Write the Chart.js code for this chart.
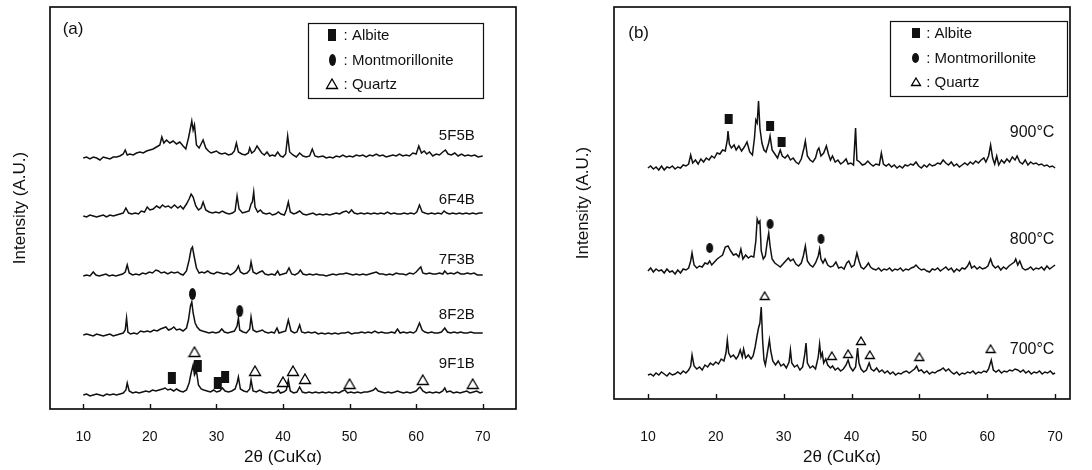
<!DOCTYPE html>
<html>
<head>
<meta charset="utf-8">
<script src="https://cdn.jsdelivr.net/npm/chart.js@4.4.0/dist/chart.umd.min.js"></script>
<style>
html, body { margin: 0; padding: 0; background: #fff; }
#wrap { position: relative; width: 1092px; height: 470px; }
canvas { position: absolute; top: 0; }
</style>
</head>
<body>
<div id="wrap">
  <canvas id="chartA" width="546" height="470" style="left:0px"></canvas>
  <canvas id="chartB" width="546" height="470" style="left:546px"></canvas>
</div>
<script>
// ---- data (2theta, intensity above each pattern's baseline) ----
const tickValues = [10, 20, 30, 40, 50, 60, 70]
const legendNames = ["Albite", "Montmorillonite", "Quartz"]

const samplesA = ["5F5B", "6F4B", "7F3B", "8F2B", "9F1B"]
const offsetsA = [251, 193, 133, 74, 14]

const trace5F5B = [10,0, 10.5,1, 11,-1, 11.5,1, 12,0, 12.5,-2, 13,1, 13.5,0, 14,-1, 14.5,1, 15,1, 15.5,2, 16,4, 16.3,8, 16.6,3, 17,4, 17.5,3, 18,5, 18.5,6, 19,5, 19.5,7, 20,8, 20.5,9, 21,11, 21.5,13, 21.8,21, 22.1,15, 22.5,18, 23,15, 23.5,17, 24,14, 24.5,16, 25,12, 25.4,9, 25.8,20, 26.1,30, 26.3,37, 26.5,28, 26.7,33, 27,13, 27.4,10, 27.7,14, 28,18, 28.4,10, 28.8,7, 29.2,5, 29.6,6, 30,7, 30.4,5, 30.8,4, 31.3,5, 31.8,3, 32.3,4, 32.7,7, 33,15, 33.3,6, 33.8,4, 34.3,3, 34.8,5, 35,10, 35.3,5, 35.7,7, 36.1,12, 36.4,9, 36.8,5, 37.2,3, 37.6,6, 38,2, 38.4,3, 38.8,2, 39.2,6, 39.6,2, 40,1, 40.4,4, 40.7,22, 41,6, 41.5,3, 42,1, 42.5,5, 43,2, 43.5,1, 44,2, 44.4,9, 44.8,2, 45.3,1, 46,2, 46.5,0, 47,1, 47.5,0, 48,2, 48.5,1, 49,3, 49.5,1, 50,2, 50.5,1, 51,3, 51.5,2, 52,3, 52.5,1, 53,3, 53.5,2, 54,4, 54.5,2, 55,3, 55.5,1, 56,2, 56.5,3, 57,2, 57.5,4, 58,2, 58.5,3, 59,2, 59.5,5, 60,4, 60.4,12, 60.8,5, 61.2,7, 61.6,4, 62,6, 62.5,2, 63,4, 63.5,3, 64,6, 64.4,8, 64.8,4, 65.3,3, 65.8,5, 66.3,2, 66.8,4, 67.3,2, 67.8,3, 68.3,2, 68.8,3, 69.3,1, 70,2]
const trace6F4B = [10,0, 10.5,-1, 11,1, 11.5,0, 12,-1, 12.5,0, 13,1, 13.5,-1, 14,1, 14.5,0, 15,1, 15.5,2, 16,3, 16.4,8, 16.8,3, 17.3,2, 17.8,3, 18.3,2, 18.7,5, 19.2,4, 19.6,9, 20,6, 20.5,7, 21,10, 21.5,8, 21.9,11, 22.3,9, 22.8,10, 23.2,8, 23.7,11, 24.2,8, 24.6,10, 25,7, 25.5,12, 25.9,17, 26.2,22, 26.5,19, 26.9,10, 27.3,6, 27.7,8, 28,14, 28.4,6, 28.9,4, 29.4,3, 29.9,4, 30.4,3, 30.9,5, 31.4,3, 31.9,2, 32.4,3, 32.8,5, 33.1,20, 33.4,7, 33.9,3, 34.4,4, 34.9,5, 35.2,12, 35.4,14, 35.6,24, 35.8,9, 36.2,4, 36.6,6, 37,3, 37.5,2, 38,3, 38.4,1, 38.9,2, 39.3,4, 39.7,2, 40.2,1, 40.5,6, 40.8,14, 41.1,4, 41.6,2, 42,3, 42.5,5, 43,2, 43.5,1, 44,2, 44.5,3, 45,1, 45.5,2, 46,1, 46.5,2, 47,1, 47.5,2, 48,3, 48.5,2, 49,4, 49.5,5, 49.9,3, 50.3,6, 50.7,3, 51.2,2, 51.7,3, 52.2,2, 52.7,3, 53.2,2, 53.7,3, 54.2,2, 54.7,3, 55.2,2, 55.7,4, 56.2,2, 56.7,3, 57.2,2, 57.7,2, 58.2,3, 58.7,2, 59.2,3, 59.7,2, 60.1,4, 60.5,11, 60.9,4, 61.3,3, 61.8,2, 62.3,3, 62.8,2, 63.3,3, 63.8,2, 64.2,5, 64.6,3, 65,2, 65.5,3, 66,2, 66.5,3, 67,2, 67.5,3, 68,2, 68.5,3, 69,2, 69.5,3, 70,3]
const trace7F3B = [10,0, 10.5,1, 11,0, 11.5,4, 11.9,1, 12.4,0, 12.9,1, 13.4,2, 13.9,0, 14.4,1, 14.9,0, 15.4,1, 15.9,2, 16.3,4, 16.6,11, 16.9,3, 17.4,1, 17.9,2, 18.4,1, 18.9,3, 19.4,2, 19.9,4, 20.4,3, 20.9,6, 21.3,5, 21.7,3, 22.2,4, 22.7,2, 23.2,4, 23.7,3, 24.2,4, 24.6,2, 25,1, 25.5,5, 25.9,16, 26.2,27, 26.4,29, 26.7,18, 27,8, 27.4,3, 27.8,4, 28.2,3, 28.7,5, 29.1,3, 29.6,2, 30.1,4, 30.6,3, 31.1,2, 31.6,3, 32.1,1, 32.6,3, 33,6, 33.3,10, 33.6,4, 34.1,2, 34.6,3, 35,6, 35.2,14, 35.5,4, 36,2, 36.5,4, 36.9,5, 37.3,2, 37.8,1, 38.3,2, 38.8,1, 39.2,5, 39.5,1, 40,2, 40.5,3, 40.9,8, 41.3,2, 41.8,1, 42.3,3, 42.6,6, 43,2, 43.5,1, 44,2, 44.5,1, 45,2, 45.5,1, 46,1, 46.5,0, 47,1, 47.5,2, 48,1, 48.5,2, 49,2, 49.5,3, 50,2, 50.5,1, 51,2, 51.5,1, 52,2, 52.5,1, 53,2, 53.5,3, 54,4, 54.5,2, 55,2, 55.5,1, 56,2, 56.5,1, 57,3, 57.5,2, 58,2, 58.5,1, 59,3, 59.6,2, 60,4, 60.4,7, 60.7,9, 61,3, 61.5,2, 62,3, 62.5,2, 63,2, 63.5,3, 64,2, 64.3,5, 64.7,2, 65.2,3, 65.7,2, 66.2,4, 66.7,2, 67.2,2, 67.7,3, 68.2,2, 68.7,3, 69.2,1, 70,1]
const trace8F2B = [10,0, 10.5,1, 11,0, 11.5,-1, 12,1, 12.5,0, 13,-1, 13.5,0, 14,1, 14.5,-1, 15,0, 15.5,1, 16,2, 16.3,5, 16.5,17, 16.7,3, 17.1,1, 17.6,2, 18.1,1, 18.6,4, 19.1,3, 19.6,4, 20.1,3, 20.6,5, 21.1,4, 21.6,6, 22,7, 22.4,8, 22.8,5, 23.2,6, 23.6,8, 24,5, 24.5,6, 25,4, 25.5,7, 25.8,15, 26.1,29, 26.3,33, 26.5,22, 26.8,12, 27.1,8, 27.5,5, 27.9,4, 28.4,3, 28.9,2, 29.4,3, 29.9,2, 30.4,3, 30.8,6, 31.2,3, 31.7,2, 32.2,3, 32.7,4, 33.1,9, 33.3,17, 33.5,5, 34,3, 34.5,2, 35,6, 35.2,18, 35.5,5, 36,3, 36.5,4, 36.9,5, 37.3,3, 37.8,2, 38.3,3, 38.7,2, 39.1,7, 39.4,2, 39.9,3, 40.4,4, 40.8,15, 41.2,4, 41.7,2, 42.1,3, 42.5,10, 42.8,3, 43.3,2, 43.8,3, 44.3,2, 44.8,3, 45.3,1, 45.8,2, 46.3,1, 46.8,2, 47.3,1, 47.8,2, 48.3,1, 48.8,2, 49.3,2, 49.8,3, 50.3,1, 50.8,2, 51.3,2, 51.8,3, 52.3,2, 52.8,3, 53.3,2, 53.8,4, 54.3,2, 54.8,3, 55.3,2, 55.8,2, 56.3,3, 56.8,2, 57.2,6, 57.6,2, 58.1,3, 58.6,2, 59.1,3, 59.6,2, 60,4, 60.5,12, 60.9,5, 61.3,3, 61.8,2, 62.3,3, 62.8,2, 63.3,2, 63.8,3, 64.3,7, 64.7,3, 65.2,2, 65.7,3, 66.2,2, 66.7,3, 67.2,2, 67.7,2, 68.2,3, 68.7,2, 69.2,2, 70,2]
const trace9F1B = [10,0, 10.5,1, 11,-1, 11.5,0, 12,1, 12.5,0, 13,-1, 13.5,1, 14,0, 14.5,1, 15,0, 15.5,1, 16,2, 16.4,5, 16.6,12, 16.9,4, 17.4,2, 17.9,3, 18.4,2, 18.9,3, 19.4,4, 19.9,3, 20.4,5, 20.9,4, 21.4,5, 21.9,6, 22.3,7, 22.7,5, 23.1,6, 23.6,4, 24,6, 24.5,4, 25,3, 25.5,5, 25.9,12, 26.2,22, 26.5,30, 26.7,20, 27,24, 27.3,10, 27.7,6, 28.1,5, 28.6,4, 29.1,3, 29.6,5, 30,3, 30.5,4, 30.9,7, 31.3,4, 31.8,3, 32.3,4, 32.8,6, 33.1,12, 33.3,18, 33.6,6, 34.1,4, 34.6,3, 35,6, 35.2,15, 35.5,4, 36,3, 36.5,5, 37,3, 37.5,2, 38,3, 38.5,2, 39,3, 39.3,5, 39.6,2, 40.1,3, 40.5,5, 40.8,15, 41.1,4, 41.6,2, 42.1,3, 42.5,8, 42.9,3, 43.4,2, 43.9,3, 44.4,2, 44.9,3, 45.4,2, 45.9,3, 46.4,2, 46.9,3, 47.4,2, 47.9,3, 48.4,2, 48.9,4, 49.3,5, 49.7,2, 50.2,3, 50.7,2, 51.2,3, 51.7,2, 52.2,3, 52.7,3, 53.2,4, 53.6,5, 53.9,7, 54.3,4, 54.8,3, 55.3,2, 55.8,3, 56.3,2, 56.8,3, 57.2,4, 57.6,3, 58.1,2, 58.6,3, 59.1,2, 59.6,3, 60,4, 60.4,7, 60.6,8, 61,4, 61.5,2, 62,3, 62.5,2, 63,3, 63.5,2, 64,4, 64.3,7, 64.6,3, 65.1,4, 65.6,2, 66.1,3, 66.6,2, 67.1,3, 67.6,4, 68.1,2, 68.6,3, 69.1,4, 69.6,2, 70,3]

const albiteA = [[23.3, 31], [27.2, 43], [30.2, 26], [31.3, 32]]
const montA = [[26.4, 115], [33.5, 98]]
const quartzA = [[26.7, 57], [35.8, 38], [40, 27], [41.5, 38], [43.3, 30], [50, 25], [61, 29], [68.5, 25]]

const samplesB = ["900°C", "800°C", "700°C"]
const offsetsB = [231, 128, 24]

const trace900 = [10,0, 10.4,2, 10.8,-1, 11.2,1, 11.6,-2, 12,2, 12.4,-2, 12.8,1, 13.2,0, 13.6,2, 14,-1, 14.4,1, 14.8,0, 15.2,3, 15.6,2, 16,4, 16.3,13, 16.6,5, 17,8, 17.4,4, 17.8,9, 18.2,6, 18.6,10, 19,8, 19.4,12, 19.8,10, 20.2,15, 20.6,14, 21,18, 21.4,17, 21.7,28, 21.8,37, 22,24, 22.3,20, 22.7,23, 23,18, 23.4,22, 23.8,17, 24.2,21, 24.6,26, 25,16, 25.4,13, 25.7,30, 25.9,48, 26.1,45, 26.3,67, 26.5,40, 26.8,25, 27.1,18, 27.4,16, 27.8,25, 28,32, 28.3,18, 28.7,14, 29.1,10, 29.5,18, 29.8,12, 30.2,10, 30.6,13, 31,8, 31.4,10, 31.8,6, 32.2,4, 32.6,9, 33,20, 33.2,27, 33.5,12, 33.9,8, 34.3,6, 34.7,10, 35,18, 35.2,20, 35.5,12, 35.9,15, 36.3,22, 36.6,14, 36.9,8, 37.2,12, 37.6,6, 38,8, 38.4,4, 38.8,6, 39.2,9, 39.5,4, 39.9,5, 40.3,3, 40.6,40, 40.8,8, 41.2,6, 41.6,3, 42,4, 42.4,7, 42.8,4, 43.2,2, 43.6,4, 44.1,3, 44.4,15, 44.7,4, 45.1,2, 45.5,4, 45.9,1, 46.3,3, 46.7,0, 47.1,2, 47.5,0, 47.9,3, 48.3,2, 48.7,4, 49.1,3, 49.5,6, 49.9,2, 50.3,0, 50.7,3, 51.1,1, 51.5,4, 51.9,2, 52.3,3, 52.7,5, 53.1,4, 53.5,8, 53.9,5, 54.3,3, 54.7,6, 55.1,2, 55.5,4, 55.9,1, 56.3,3, 56.7,5, 57.1,3, 57.5,6, 57.9,4, 58.3,7, 58.7,5, 59.1,8, 59.5,10, 59.8,6, 60.2,12, 60.5,23, 60.8,10, 61.1,4, 61.4,12, 61.7,3, 62.1,8, 62.5,5, 62.9,9, 63.3,6, 63.7,11, 64.1,8, 64.4,12, 64.8,6, 65.2,4, 65.6,8, 66,3, 66.4,6, 66.8,4, 67.2,5, 67.6,3, 68,4, 68.4,2, 68.8,3, 69.2,1, 69.6,2, 70,0]
const trace800 = [10,0, 10.4,3, 10.8,-1, 11.2,2, 11.6,0, 12,1, 12.4,-2, 12.8,2, 13.2,-1, 13.6,0, 14,-3, 14.4,1, 14.8,-2, 15.2,2, 15.6,1, 16,3, 16.3,10, 16.5,18, 16.8,6, 17.2,3, 17.6,5, 18,4, 18.4,8, 18.8,7, 19.1,10, 19.4,6, 19.8,9, 20.2,12, 20.6,14, 21,16, 21.4,24, 21.8,25, 22.2,20, 22.6,16, 23,17, 23.4,14, 23.7,22, 24,12, 24.4,16, 24.8,13, 25.2,15, 25.6,14, 25.9,30, 26.1,52, 26.3,48, 26.5,50, 26.7,20, 27,12, 27.3,15, 27.6,30, 27.8,38, 28,25, 28.3,12, 28.7,8, 29.1,6, 29.5,4, 29.9,7, 30.3,10, 30.7,13, 31,10, 31.4,12, 31.8,7, 32.2,5, 32.6,8, 32.9,15, 33.2,25, 33.5,10, 33.9,6, 34.3,4, 34.7,8, 35.1,15, 35.3,22, 35.5,12, 35.8,8, 36.1,12, 36.5,6, 36.9,4, 37.3,5, 37.7,9, 38.1,3, 38.5,4, 38.9,2, 39.3,8, 39.6,10, 40,4, 40.4,6, 40.8,18, 41.1,10, 41.4,4, 41.8,2, 42.2,5, 42.5,8, 42.8,4, 43.2,2, 43.6,1, 44,3, 44.4,0, 44.8,2, 45.2,1, 45.6,3, 46,0, 46.4,2, 46.8,1, 47.2,3, 47.6,0, 48,2, 48.4,1, 48.8,3, 49.2,4, 49.5,6, 49.9,3, 50.3,1, 50.7,2, 51.1,0, 51.5,-1, 51.9,2, 52.3,1, 52.7,3, 53.1,0, 53.5,2, 53.9,4, 54.3,1, 54.7,3, 55.1,-1, 55.5,2, 55.9,0, 56.3,3, 56.7,2, 57.1,5, 57.4,9, 57.7,3, 58.1,5, 58.5,2, 58.9,4, 59.3,2, 59.7,3, 60.1,5, 60.5,12, 60.8,6, 61.2,3, 61.6,5, 62,1, 62.4,4, 62.8,2, 63.2,5, 63.6,7, 64,9, 64.2,12, 64.5,6, 64.8,10, 65.2,3, 65.6,1, 66,2, 66.4,4, 66.8,1, 67.2,3, 67.6,2, 68,4, 68.4,1, 68.8,5, 69.2,2, 69.6,4, 70,6]
const trace700 = [10,0, 10.4,1, 10.8,-1, 11.2,2, 11.6,0, 12,3, 12.4,1, 12.8,-1, 13.2,2, 13.6,0, 14,1, 14.4,3, 14.8,1, 15.2,4, 15.6,2, 16,5, 16.3,9, 16.5,20, 16.8,9, 17.2,6, 17.6,8, 18,5, 18.4,10, 18.8,8, 19.2,12, 19.6,10, 20,13, 20.4,11, 20.8,16, 21.2,14, 21.5,22, 21.7,35, 21.9,22, 22.2,18, 22.6,20, 23,16, 23.3,19, 23.6,25, 23.9,18, 24.1,26, 24.4,17, 24.8,20, 25.2,16, 25.5,19, 25.8,28, 26.1,40, 26.3,47, 26.5,52, 26.7,68, 26.9,35, 27.1,15, 27.3,10, 27.6,22, 27.9,35, 28.1,24, 28.4,14, 28.8,10, 29.2,14, 29.6,9, 30,11, 30.4,7, 30.8,13, 31,25, 31.2,12, 31.6,8, 32,10, 32.4,5, 32.8,8, 33.1,20, 33.3,32, 33.5,12, 33.9,7, 34.3,9, 34.7,6, 35.1,18, 35.3,31, 35.5,18, 35.7,22, 35.9,12, 36.2,16, 36.5,10, 36.9,7, 37.2,9, 37.6,5, 38,7, 38.4,4, 38.8,6, 39.2,10, 39.5,15, 39.8,8, 40.2,4, 40.6,8, 40.9,27, 41.1,12, 41.4,6, 41.8,3, 42.2,5, 42.6,12, 42.9,6, 43.3,4, 43.7,7, 44.1,3, 44.5,5, 44.9,2, 45.3,4, 45.7,1, 46.1,3, 46.5,0, 46.9,2, 47.3,1, 47.7,3, 48.1,4, 48.5,2, 48.9,4, 49.3,6, 49.6,9, 49.9,4, 50.3,5, 50.7,2, 51.1,4, 51.5,1, 51.9,3, 52.3,2, 52.7,4, 53.1,5, 53.5,7, 53.9,4, 54.3,6, 54.7,3, 55.1,1, 55.5,3, 55.9,0, 56.3,2, 56.7,1, 57.1,3, 57.5,2, 57.9,4, 58.3,1, 58.7,3, 59.1,2, 59.5,4, 59.9,3, 60.2,6, 60.6,15, 60.9,5, 61.3,3, 61.7,5, 62.1,2, 62.5,4, 62.9,3, 63.3,5, 63.7,4, 64.1,6, 64.5,5, 64.9,3, 65.3,5, 65.7,2, 66.1,4, 66.5,1, 66.9,3, 67.3,2, 67.7,4, 68.1,1, 68.5,3, 68.9,2, 69.3,4, 69.7,1, 70,2]

const albiteB = [[21.9, 280], [28, 273], [29.7, 257]]
const montB = [[19.1, 151], [28, 175], [35.5, 160]]
const quartzB = [[27.2, 103], [37.1, 43], [39.5, 45], [41.4, 58], [42.7, 44], [50, 42], [60.5, 50]]

// ---- helpers ----
const FONT = "'Liberation Sans', Arial, sans-serif"
const INK = "#111"

function toPoints(flat, offset) {
    let pts = []
    for (let i = 0; i < flat.length; i += 2) {
        pts.push({x: flat[i], y: flat[i + 1] + offset})
    }
    return pts
}

function makeMarker(kind, w, h) {
    const c = document.createElement("canvas")
    c.width = w + 2
    c.height = h + 2
    const g = c.getContext("2d")
    g.fillStyle = INK
    g.strokeStyle = "#000"
    g.lineWidth = 1.3
    if (kind == "rect") {
        g.fillRect(1, 1, w, h)
    } else if (kind == "ellipse") {
        g.beginPath()
        g.ellipse(1 + w / 2, 1 + h / 2, w / 2, h / 2, 0, 0, Math.PI * 2)
        g.fill()
    } else {
        g.beginPath()
        g.moveTo(1 + w / 2, 1)
        g.lineTo(w + 0.5, h + 0.5)
        g.lineTo(1.5, h + 0.5)
        g.closePath()
        g.fillStyle = "#fff"
        g.fill()
        g.stroke()
    }
    return c
}

function markerSet(points, img) {
    return {
        type: "line",
        data: points.map(p => ({x: p[0], y: p[1]})),
        showLine: false,
        pointStyle: img,
        pointRadius: 5,
        pointHoverRadius: 5,
        borderWidth: 0
    }
}

// frame, inward ticks, legend box and pattern labels
function decorPlugin(cfg) {
    return {
        id: "decor",
        afterDraw(chart) {
            const ctx = chart.ctx, a = chart.chartArea
            const xs = chart.scales.x, ys = chart.scales.y
            ctx.save()
            ctx.strokeStyle = INK
            ctx.lineWidth = 1.7
            ctx.strokeRect(a.left, a.top, a.right - a.left, a.bottom - a.top)
            ctx.lineWidth = 1.4
            tickValues.forEach(v => {
                const px = Math.round(xs.getPixelForValue(v)) + 0.5
                ctx.beginPath()
                ctx.moveTo(px, a.bottom)
                ctx.lineTo(px, a.bottom - 5)
                ctx.stroke()
            })

            // legend
            const L = cfg.legend
            const bx1 = xs.getPixelForValue(L.x1), bx2 = xs.getPixelForValue(L.x2)
            const by1 = ys.getPixelForValue(L.y2), by2 = ys.getPixelForValue(L.y1)
            ctx.lineWidth = 1.2
            ctx.strokeRect(Math.round(bx1) + 0.5, Math.round(by1) + 0.5, Math.round(bx2 - bx1), Math.round(by2 - by1))
            ctx.fillStyle = INK
            ctx.font = L.font
            ctx.textBaseline = "middle"
            ctx.textAlign = "left"
            legendNames.forEach((name, i) => {
                const img = cfg.markers[i]
                const my = ys.getPixelForValue(L.rows[i])
                const mx = xs.getPixelForValue(L.markX)
                ctx.drawImage(img, Math.round(mx - img.width / 2), Math.round(my - img.height / 2))
                ctx.fillText(": " + name, xs.getPixelForValue(L.textX), my + 1)
            })

            // pattern labels
            ctx.font = cfg.labelFont
            ctx.textAlign = "right"
            cfg.labels.forEach((lab, i) => {
                ctx.fillText(lab, xs.getPixelForValue(cfg.labelX), ys.getPixelForValue(cfg.labelY[i]))
            })

            // panel letter
            ctx.font = cfg.panelFont
            ctx.textAlign = "left"
            ctx.fillText(cfg.panel, xs.getPixelForValue(cfg.panelX), ys.getPixelForValue(cfg.panelY))
            ctx.restore()
        }
    }
}

function buildChart(id, p) {
    let datasets = [
        markerSet(p.albite, p.imgs[0]),
        markerSet(p.mont, p.imgs[1]),
        markerSet(p.quartz, p.imgs[2])
    ]
    p.traces.forEach((t, i) => {
        datasets.push({
            type: "line",
            data: toPoints(t, p.offsets[i]),
            borderColor: INK,
            borderWidth: 1.5,
            pointRadius: 0,
            tension: 0,
            fill: false
        })
    })

    return new Chart(document.getElementById(id).getContext("2d"), {
        type: "line",
        data: {datasets: datasets},
        options: {
            responsive: false,
            animation: false,
            events: [],
            layout: {padding: {left: 0, right: p.padRight, top: 7, bottom: 0}},
            plugins: {legend: {display: false}, tooltip: {enabled: false}},
            scales: {
                x: {
                    type: "linear",
                    min: 5,
                    max: p.xMax,
                    afterBuildTicks: s => { s.ticks = tickValues.map(v => ({value: v})) },
                    afterFit: s => { s.height = p.xHeight },
                    grid: {display: false},
                    border: {display: false},
                    ticks: {color: INK, padding: p.tickPad, font: {family: FONT, size: 14}},
                    title: {display: true, text: "2θ (CuKα)", color: INK, padding: {top: 0, bottom: p.titlePad}, font: {family: FONT, size: 17}}
                },
                y: {
                    type: "linear",
                    min: 0,
                    max: p.yMax,
                    afterFit: s => { s.width = p.yWidth },
                    grid: {display: false},
                    border: {display: false},
                    ticks: {display: false},
                    title: {display: true, text: "Intensity (A.U.)", color: INK, padding: {top: p.yTitlePad, bottom: 0}, font: {family: FONT, size: 17}}
                }
            }
        },
        plugins: [decorPlugin(p.decor)]
    })
}

const imgsA = [makeMarker("rect", 8, 12), makeMarker("ellipse", 7, 12), makeMarker("tri", 12, 10)]
const imgsB = [makeMarker("rect", 8, 10), makeMarker("ellipse", 7, 10), makeMarker("tri", 10, 8)]

buildChart("chartA", {
    traces: [trace5F5B, trace6F4B, trace7F3B, trace8F2B, trace9F1B],
    offsets: offsetsA,
    albite: albiteA, mont: montA, quartz: quartzA,
    imgs: imgsA,
    xMax: 75, yMax: 402,
    padRight: 30, xHeight: 61, yWidth: 50,
    tickPad: 12, titlePad: 2, yTitlePad: 10,
    decor: {
        markers: imgsA,
        legend: {x1: 43.8, x2: 70.1, y1: 311, y2: 386, rows: [374, 349, 325], markX: 47.4, textX: 49.1, font: "15px " + FONT},
        labels: samplesA,
        labelX: 68.8, labelY: [273, 209, 149, 94, 45],
        labelFont: "15px " + FONT,
        panel: "(a)", panelX: 6.9, panelY: 380, panelFont: "17px " + FONT
    }
})

buildChart("chartB", {
    traces: [trace900, trace800, trace700],
    offsets: offsetsB,
    albite: albiteB, mont: montB, quartz: quartzB,
    imgs: imgsB,
    xMax: 72.2, yMax: 392,
    padRight: 22, xHeight: 71, yWidth: 68,
    tickPad: 22, titlePad: 2, yTitlePad: 27,
    decor: {
        markers: imgsB,
        legend: {x1: 45.6, x2: 71.7, y1: 303, y2: 378, rows: [366, 341, 317], markX: 49.5, textX: 51, font: "15px " + FONT},
        labels: samplesB,
        labelX: 69.9, labelY: [266, 159, 49],
        labelFont: "16px " + FONT,
        panel: "(b)", panelX: 7.1, panelY: 366, panelFont: "17px " + FONT
    }
})
</script>
</body>
</html>
